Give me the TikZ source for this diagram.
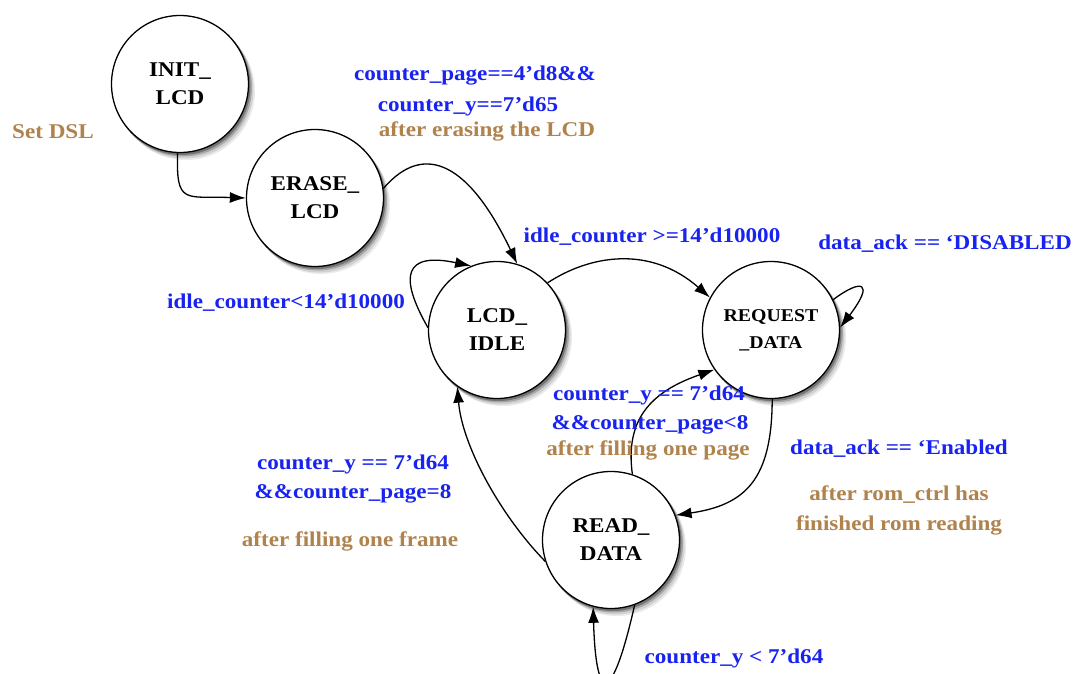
\documentclass[tikz,border=0pt]{standalone}
\usepackage{fontspec}
\setmainfont{Liberation Serif}[FakeStretch=1.1]
\usetikzlibrary{arrows.meta}
\definecolor{lblue}{RGB}{25,35,240}
\definecolor{lbrown}{RGB}{176,130,76}
\tikzset{
  state/.style={circle, draw=black, line width=1.3pt, minimum size=137pt, inner sep=0pt,
    fill=white, align=center, font=\fontsize{21}{28}\selectfont\bfseries},
  cond/.style={text=lblue, font=\fontsize{21}{24}\selectfont\bfseries, inner sep=0pt},
  act/.style={text=lbrown, font=\fontsize{21}{24}\selectfont\bfseries, inner sep=0pt},
  arr/.style={line width=1.3pt, -{Latex[length=16pt,width=11pt]}}
}
\newcommand{\statesh}[1]{%
  \fill[black!8] ([shift={(6pt,-7pt)}]#1) circle (69pt);
  \fill[black!18] ([shift={(4.5pt,-5.5pt)}]#1) circle (69pt);
  \fill[black!35] ([shift={(3pt,-3.5pt)}]#1) circle (69pt);
  \fill[black!55] ([shift={(1.5pt,-2pt)}]#1) circle (69pt);}
\begin{document}
\begin{tikzpicture}[x=1pt,y=-1pt]
\useasboundingbox[fill=white] (0,0) rectangle (1084,673);
\coordinate (cinit) at (180,84);
\coordinate (cerase) at (315,198);
\coordinate (cidle) at (497,330);
\coordinate (creq) at (771,330);
\coordinate (cread) at (611,540);
\statesh{cinit}\statesh{cerase}\statesh{cidle}\statesh{creq}\statesh{cread}
\node[state] (init) at (cinit) {INIT\_\\LCD};
\node[state] (erase) at (cerase) {ERASE\_\\LCD};
\node[state] (idle) at (cidle) {LCD\_\\IDLE};
\node[state, font=\fontsize{18}{27}\selectfont\bfseries] (req) at (creq) {REQUEST\\\_DATA};
\node[state] (read) at (cread) {READ\_\\DATA};

\draw[arr] (init.-92) .. controls (176,205) and (185,196) .. (erase.west);
\draw[arr] (erase.8) .. controls (425,140) and (470,165) .. (idle.73);
\draw[arr] (idle.178) .. controls (398,275) and (405,252) .. (idle.112);
\draw[arr] (idle.43) .. controls (590,255) and (650,245) .. (req.152);
\draw[arr] (req.26) .. controls (862,278) and (875,282) .. (req.2);
\draw[arr] (req.-89) .. controls (772,480) and (745,505) .. (read.21);
\draw[arr] (read.72) .. controls (625,420) and (650,392) .. (req.-145);
\draw[arr] (read.198) .. controls (500,515) and (462,445) .. (idle.235);
\draw[arr] (read.-70) .. controls (612,705) and (596,705) .. (read.-105);

\node[act] (t1) at (53,132) {Set DSL};
\node[cond] (t2) at (475,76) {counter\_page==4'd8\&\&};
\node[cond] (t3) at (468,106) {counter\_y==7'd65};
\node[act] (t4) at (487,131) {after erasing the LCD};
\node[cond] (t5) at (652,237) {idle\_counter >=14'd10000};
\node[cond] (t6) at (945,244) {data\_ack == `DISABLED};
\node[cond] (t7) at (286,303) {idle\_counter<14'd10000};
\node[cond] (t8) at (649,395) {counter\_y == 7'd64};
\node[cond] (t9) at (650,425) {\&\&counter\_page<8};
\node[act] (t10) at (648,450) {after filling one page};
\node[cond] (t11) at (899,449) {data\_ack == `Enabled};
\node[act] (t12) at (899,495) {after rom\_ctrl has};
\node[act] (t13) at (899,525) {finished rom reading};
\node[cond] (t14) at (734,658) {counter\_y < 7'd64};
\node[cond] (t15) at (353,464) {counter\_y == 7'd64};
\node[cond] (t16) at (353,494) {\&\&counter\_page=8};
\node[act] (t17) at (350,541) {after filling one frame};
\end{tikzpicture}
\end{document}
